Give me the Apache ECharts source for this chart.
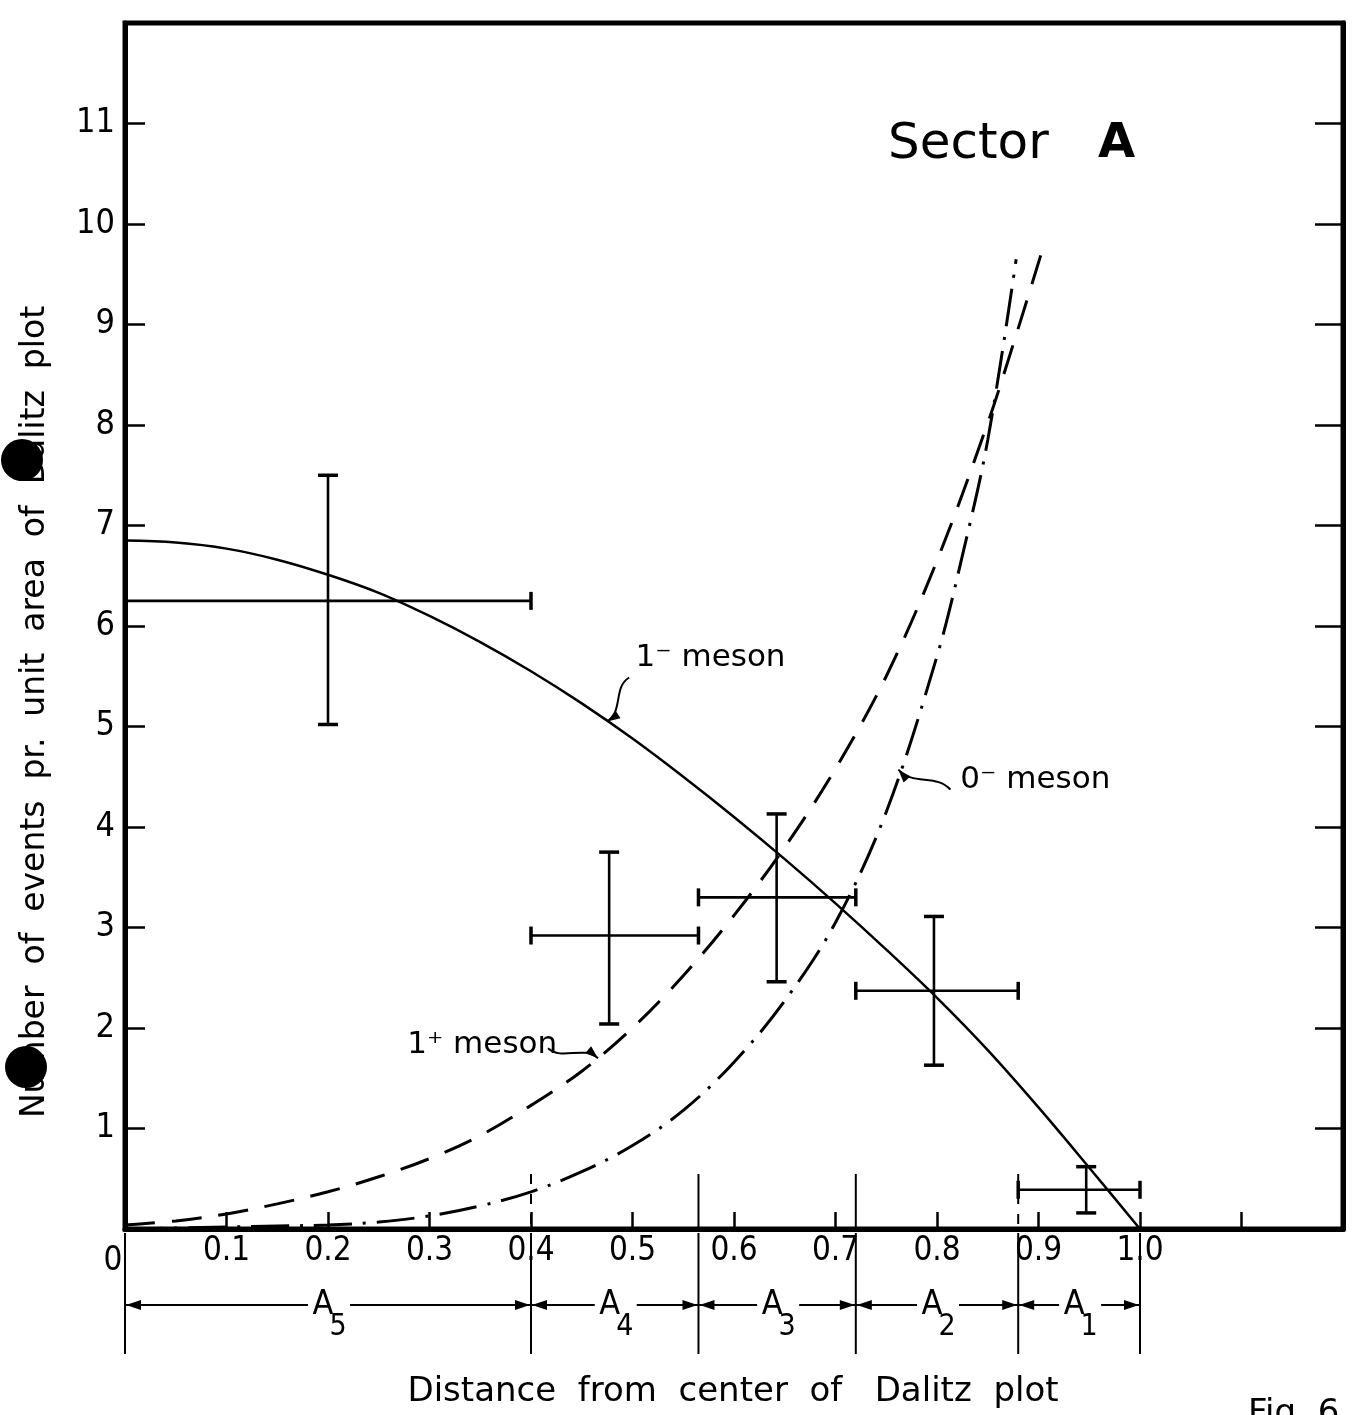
<!DOCTYPE html>
<html>
<head>
<meta charset="utf-8">
<script src="https://cdn.jsdelivr.net/npm/echarts@6/dist/echarts.min.js"></script>
<style>html,body{margin:0;padding:0;background:#fff}#c{width:1361px;height:1415px}</style>
</head>
<body>
<div id="c"></div>
<script>
// ---------------- data ----------------
const xTickLabelValues = [0, 0.1, 0.2, 0.3, 0.4, 0.5, 0.6, 0.7, 0.8, 0.9, 1.0];
const yTickLabelValues = [1, 2, 3, 4, 5, 6, 7, 8, 9, 10, 11];

// 1- meson (solid)
const oneMinusX = [0, 0.05, 0.1, 0.15, 0.2, 0.25, 0.3, 0.35, 0.4, 0.45, 0.5, 0.55, 0.6, 0.65, 0.7, 0.75, 0.8, 0.85, 0.9, 0.95, 1.0];
const oneMinusY = [6.85, 6.83, 6.77, 6.66, 6.51, 6.33, 6.10, 5.84, 5.55, 5.23, 4.88, 4.50, 4.10, 3.68, 3.24, 2.78, 2.30, 1.78, 1.21, 0.61, 0.0];

// 1+ meson (dashed)
const onePlusX = [0, 0.05, 0.1, 0.15, 0.2, 0.25, 0.3, 0.35, 0.4, 0.45, 0.5, 0.55, 0.6, 0.65, 0.7, 0.75, 0.8, 0.85, 0.875, 0.905];
const onePlusY = [0.04, 0.08, 0.15, 0.25, 0.37, 0.52, 0.70, 0.93, 1.23, 1.57, 2.0, 2.52, 3.12, 3.80, 4.58, 5.5, 6.65, 8.02, 8.8, 9.78];

// 0- meson (dash-dot)
const zeroMinusX = [0, 0.05, 0.1, 0.15, 0.2, 0.25, 0.3, 0.35, 0.4, 0.45, 0.5, 0.55, 0.6, 0.65, 0.7, 0.75, 0.8, 0.825, 0.85, 0.878];
const zeroMinusY = [0.0, 0.01, 0.02, 0.03, 0.04, 0.07, 0.13, 0.23, 0.37, 0.57, 0.83, 1.18, 1.66, 2.27, 3.05, 4.15, 5.7, 6.7, 7.85, 9.65];

// measured points with error bars
const pointX   = [0.2, 0.477, 0.642, 0.797, 0.947];
const pointY   = [6.25, 2.92, 3.30, 2.37, 0.39];
const errYLow  = [5.02, 2.04, 2.46, 1.63, 0.16];
const errYHigh = [7.50, 3.75, 4.13, 3.11, 0.62];
const errXLow  = [0.0, 0.4, 0.565, 0.72, 0.88];
const errXHigh = [0.4, 0.565, 0.72, 0.88, 1.0];

// bins below the axis
const binEdges = [0, 0.4, 0.565, 0.72, 0.88, 1.0];
const binNames = ['5', '4', '3', '2', '1'];

// curve labels
const curveLabels = ['1\u207B meson', '0\u207B meson', '1\u207A meson'];
const curveLabelX = [0.503, 0.823, 0.278];
const curveLabelY = [5.68, 4.47, 1.83];
const curveTipX   = [0.475, 0.762, 0.466];
const curveTipY   = [5.05, 4.57, 1.70];

// ---------------- chart ----------------
const NUMFONT = "'Liberation Sans Narrow', 'DejaVu Sans Condensed', 'DejaVu Sans', sans-serif";
const FONT = "'DejaVu Sans', sans-serif";
const chart = echarts.init(document.getElementById('c'), null, {renderer: 'canvas'});

const zip = (a, b) => a.map((v, i) => [v, b[i]]);
const isTick = (arr, v) => arr.some(t => Math.abs(t - v) < 1e-6);

const errData = pointX.map((x, i) => [x, pointY[i], errYLow[i], errYHigh[i], errXLow[i], errXHigh[i]]);
const binData = binNames.map((n, i) => [binEdges[i], binEdges[i + 1], i]);
const labelData = curveLabels.map((t, i) => [curveLabelX[i], curveLabelY[i], curveTipX[i], curveTipY[i], i]);

function arrowHead(tip, from, len, half) {
  const dx = tip[0] - from[0], dy = tip[1] - from[1];
  const L = Math.sqrt(dx * dx + dy * dy) || 1;
  const ux = dx / L, uy = dy / L;
  const bx = tip[0] - ux * len, by = tip[1] - uy * len;
  return {type: 'polygon', shape: {points: [[tip[0], tip[1]], [bx - uy * half, by + ux * half], [bx + uy * half, by - ux * half]]}, style: {fill: '#000'}};
}

const option = {
  animation: false,
  backgroundColor: '#fff',
  grid: {left: 125, top: 23, width: 1218, height: 1206, show: true, borderColor: '#000', borderWidth: 5, backgroundColor: 'transparent'},
  xAxis: {
    type: 'value', min: 0, max: 1.2, interval: 0.1,
    axisLine: {show: true, onZero: false, lineStyle: {color: '#000', width: 5}},
    axisTick: {show: true, inside: true, length: 17, lineStyle: {color: '#000', width: 2.5}},
    splitLine: {show: false},
    axisLabel: {
      margin: 6, color: '#000', fontSize: 33, fontFamily: NUMFONT,
      formatter: function (v) {
        const r = Math.round(v * 10) / 10;
        if (!isTick(xTickLabelValues, r)) return '';
        if (r === 0) return '{z|0}';
        return r.toFixed(1);
      },
      rich: {z: {fontSize: 33, fontFamily: NUMFONT, color: '#000', padding: [10, 24, 0, 0]}}
    }
  },
  yAxis: [{
    type: 'value', min: 0, max: 12, interval: 1,
    axisLine: {show: true, onZero: false, lineStyle: {color: '#000', width: 5}},
    axisTick: {show: true, inside: true, length: 20, lineStyle: {color: '#000', width: 2.5}},
    splitLine: {show: false},
    axisLabel: {
      margin: 10, color: '#000', fontSize: 34, fontFamily: NUMFONT,
      formatter: v => isTick(yTickLabelValues, v) ? String(Math.round(v)) : ''
    }
  }, {
    type: 'value', min: 0, max: 12, interval: 1, position: 'right',
    axisLine: {show: true, onZero: false, lineStyle: {color: '#000', width: 5}},
    axisTick: {show: true, inside: true, length: 28, lineStyle: {color: '#000', width: 2.5}},
    axisLabel: {show: false}, splitLine: {show: false}
  }],
  series: [
    {name: '1- meson', type: 'line', data: zip(oneMinusX, oneMinusY), smooth: 0.35, showSymbol: false, silent: true,
      lineStyle: {color: '#000', width: 2.5, type: 'solid'}},
    {name: '1+ meson', type: 'line', data: zip(onePlusX, onePlusY), smooth: 0.35, showSymbol: false, silent: true,
      lineStyle: {color: '#000', width: 3, type: [30, 17]}},
    {name: '0- meson', type: 'line', data: zip(zeroMinusX, zeroMinusY), smooth: 0.35, showSymbol: false, silent: true,
      lineStyle: {color: '#000', width: 3, type: [38, 11, 3, 11]}},
    {
      name: 'points', type: 'custom', data: errData, silent: true, encode: {x: 0, y: 1},
      renderItem: function (params, api) {
        const x = api.value(0), y = api.value(1);
        const top = api.coord([x, api.value(3)]), bot = api.coord([x, api.value(2)]);
        const l = api.coord([api.value(4), y]), r = api.coord([api.value(5), y]);
        const st = {stroke: '#000', lineWidth: 2.6, fill: null};
        const cap = {stroke: '#000', lineWidth: 3.5, fill: null};
        const cw = 10, ch = 9;
        return {type: 'group', children: [
          {type: 'line', shape: {x1: top[0], y1: top[1], x2: bot[0], y2: bot[1]}, style: st},
          {type: 'line', shape: {x1: top[0] - cw, y1: top[1], x2: top[0] + cw, y2: top[1]}, style: cap},
          {type: 'line', shape: {x1: bot[0] - cw, y1: bot[1], x2: bot[0] + cw, y2: bot[1]}, style: cap},
          {type: 'line', shape: {x1: l[0], y1: l[1], x2: r[0], y2: r[1]}, style: st},
          {type: 'line', shape: {x1: l[0], y1: l[1] - ch, x2: l[0], y2: l[1] + ch}, style: cap},
          {type: 'line', shape: {x1: r[0], y1: r[1] - ch, x2: r[0], y2: r[1] + ch}, style: cap}
        ]};
      }
    },
    {
      name: 'bins', type: 'custom', data: binData, silent: true, clip: false, encode: {x: 0, y: 2},
      renderItem: function (params, api) {
        const i = params.dataIndex;
        const pl = api.coord([api.value(0), 0]), pr = api.coord([api.value(1), 0]);
        const y0 = pl[1];
        const rowY = y0 + 76;
        const cx = (pl[0] + pr[0]) / 2;
        const lineSt = {stroke: '#000', lineWidth: 2, fill: null};
        const ch = [];
        const edge = (px, idx) => {
          ch.push({type: 'line', shape: {x1: px, y1: y0 + 4, x2: px, y2: y0 + 125}, style: lineSt});
          if (idx > 0 && idx < binEdges.length - 1) {
            const dashed = (idx === 1 || idx === 4);
            ch.push({type: 'line', shape: {x1: px, y1: y0 - 55, x2: px, y2: y0}, style: {stroke: '#000', lineWidth: 2, fill: null, lineDash: dashed ? [10, 10] : null}});
          }
        };
        edge(pl[0], i);
        if (i === binNames.length - 1) edge(pr[0], i + 1);
        ch.push({type: 'line', shape: {x1: pl[0], y1: rowY, x2: cx - 20, y2: rowY}, style: lineSt});
        ch.push({type: 'line', shape: {x1: cx + 22, y1: rowY, x2: pr[0], y2: rowY}, style: lineSt});
        ch.push(arrowHead([pl[0] + 1, rowY], [pl[0] + 20, rowY], 15, 5));
        ch.push(arrowHead([pr[0] - 1, rowY], [pr[0] - 20, rowY], 15, 5));
        ch.push({type: 'text', x: cx - 5, y: rowY, style: {text: 'A', font: '34px ' + NUMFONT, fill: '#000', align: 'center', verticalAlign: 'middle'}});
        ch.push({type: 'text', x: cx + 10, y: rowY + 22, style: {text: binNames[i], font: '30px ' + NUMFONT, fill: '#000', align: 'center', verticalAlign: 'middle'}});
        return {type: 'group', children: ch};
      }
    },
    {
      name: 'curve labels', type: 'custom', data: labelData, silent: true, clip: false, encode: {x: 0, y: 1},
      renderItem: function (params, api) {
        const i = params.dataIndex;
        const lp = api.coord([api.value(0), api.value(1)]);
        const tip = api.coord([api.value(2), api.value(3)]);
        const offs = [[22, -44], [52, 20], [-50, -10]];
        const p0 = [tip[0] + offs[i][0], tip[1] + offs[i][1]];
        const dx = tip[0] - p0[0], dy = tip[1] - p0[1];
        const L = Math.sqrt(dx * dx + dy * dy);
        const nx = -dy / L, ny = dx / L, amp = 10;
        const c1 = [p0[0] + dx * 0.33 + nx * amp, p0[1] + dy * 0.33 + ny * amp];
        const c2 = [p0[0] + dx * 0.66 - nx * amp, p0[1] + dy * 0.66 - ny * amp];
        return {type: 'group', children: [
          {type: 'text', x: lp[0], y: lp[1], style: {text: curveLabels[i], font: '31px ' + FONT, fill: '#000', align: 'left', verticalAlign: 'middle'}},
          {type: 'bezierCurve', shape: {x1: p0[0], y1: p0[1], x2: tip[0], y2: tip[1], cpx1: c1[0], cpy1: c1[1], cpx2: c2[0], cpy2: c2[1]}, style: {stroke: '#000', lineWidth: 2, fill: null}},
          arrowHead(tip, c2, 13, 4.5)
        ]};
      }
    }
  ],
  graphic: [
    {type: 'text', x: 888, y: 145, style: {text: 'Sector', font: '50px ' + FONT, fill: '#000', align: 'left', verticalAlign: 'middle'}},
    {type: 'text', x: 1098, y: 145, style: {text: 'A', font: 'bold 48px ' + FONT, fill: '#000', align: 'left', verticalAlign: 'middle'}},
    {type: 'text', x: 35, y: 712, rotation: Math.PI / 2, style: {text: 'Number  of  events  pr.  unit  area  of  Dalitz  plot', font: '33px ' + FONT, fill: '#000', align: 'center', verticalAlign: 'middle'}},
    {type: 'text', x: 733, y: 1392, style: {text: 'Distance  from  center  of   Dalitz  plot', font: '34px ' + FONT, fill: '#000', align: 'center', verticalAlign: 'middle'}},
    {type: 'text', x: 1248, y: 1397, style: {text: 'Fig. 6', font: '34px ' + FONT, fill: '#000', align: 'left', verticalAlign: 'top'}},
    {type: 'circle', shape: {cx: 22, cy: 460, r: 21}, style: {fill: '#000'}},
    {type: 'circle', shape: {cx: 26, cy: 1067, r: 21}, style: {fill: '#000'}}
  ]
};
chart.setOption(option);
</script>
</body>
</html>
